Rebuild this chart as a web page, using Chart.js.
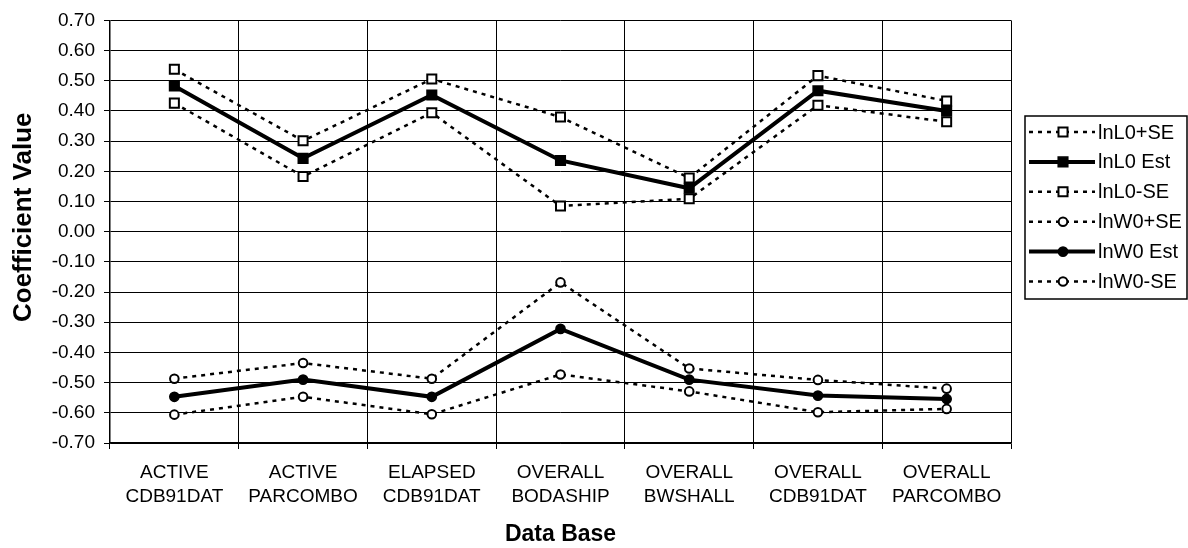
<!DOCTYPE html>
<html>
<head>
<meta charset="utf-8">
<script src="https://cdn.jsdelivr.net/npm/chart.js@4/dist/chart.umd.min.js"></script>
<style>
  html, body { margin: 0; padding: 0; background: #fff; }
  #wrap { width: 1188px; height: 548px; }
</style>
</head>
<body>
<div id="wrap"><canvas id="coefChart" width="1188" height="548"></canvas></div>
<script>
// categories (two-line labels)
const categories = [
  ["ACTIVE", "CDB91DAT"],
  ["ACTIVE", "PARCOMBO"],
  ["ELAPSED", "CDB91DAT"],
  ["OVERALL", "BODASHIP"],
  ["OVERALL", "BWSHALL"],
  ["OVERALL", "CDB91DAT"],
  ["OVERALL", "PARCOMBO"]
];

// series values
const lnL0PlusSE  = [0.538, 0.301, 0.506, 0.380, 0.178, 0.517, 0.433];
const lnL0Est     = [0.483, 0.243, 0.453, 0.236, 0.144, 0.467, 0.400];
const lnL0MinusSE = [0.426, 0.183, 0.394, 0.085, 0.109, 0.419, 0.364];
const lnW0PlusSE  = [-0.487, -0.435, -0.487, -0.168, -0.453, -0.491, -0.520];
const lnW0Est     = [-0.547, -0.490, -0.547, -0.322, -0.490, -0.543, -0.554];
const lnW0MinusSE = [-0.606, -0.547, -0.605, -0.473, -0.529, -0.598, -0.587];

// y axis range / tick step
const yMin = -0.7, yMax = 0.7, yStep = 0.1;

const FONT = "'Liberation Sans', Arial, sans-serif";
Chart.defaults.color = "#000";
Chart.defaults.font.family = FONT;

const dotted = [4, 5];

function seDataset(label, data, style) {
  return {
    label: label, data: data,
    borderColor: "#000", backgroundColor: "#fff",
    borderWidth: 2.5, borderDash: dotted,
    pointStyle: style, pointRadius: style === "rect" ? 6.4 : 4.3,
    pointBorderWidth: 2, pointBackgroundColor: "#fff", pointBorderColor: "#000",
    tension: 0
  };
}
function estDataset(label, data, style) {
  return {
    label: label, data: data,
    borderColor: "#000", backgroundColor: "#000",
    borderWidth: 4, borderDash: [],
    pointStyle: style, pointRadius: style === "rect" ? 6.8 : 4.6,
    pointBorderWidth: 1.5, pointBackgroundColor: "#000", pointBorderColor: "#000",
    tension: 0
  };
}

// legend with a frame, drawn to the right of the plot
const frameLegend = {
  id: "frameLegend",
  afterDraw(chart) {
    const ctx = chart.ctx;
    const x0 = 1025, y0 = 116, w = 162, h = 183, row = 29.9;
    ctx.save();
    ctx.strokeStyle = "#000";
    ctx.lineWidth = 1.5;
    ctx.setLineDash([]);
    ctx.strokeRect(x0, y0, w, h);
    chart.data.datasets.forEach((ds, i) => {
      const y = y0 + 16 + i * row;
      ctx.setLineDash(ds.borderDash || []);
      ctx.lineWidth = ds.borderWidth;
      ctx.strokeStyle = "#000";
      ctx.beginPath();
      ctx.moveTo(x0 + 4, y);
      ctx.lineTo(x0 + 70, y);
      ctx.stroke();
      ctx.setLineDash([]);
      ctx.fillStyle = ds.pointBackgroundColor;
      ctx.strokeStyle = ds.pointBorderColor;
      ctx.lineWidth = ds.pointBorderWidth;
      Chart.helpers.drawPoint(ctx, {
        pointStyle: ds.pointStyle, radius: ds.pointRadius,
        borderWidth: ds.pointBorderWidth, rotation: 0
      }, x0 + 38, y);
      ctx.fillStyle = "#000";
      ctx.font = "20px " + FONT;
      ctx.textBaseline = "middle";
      ctx.textAlign = "left";
      ctx.fillText(ds.label, x0 + 73, y + 1);
    });
    ctx.restore();
  }
};

new Chart(document.getElementById("coefChart").getContext("2d"), {
  type: "line",
  data: {
    labels: categories,
    datasets: [
      seDataset("lnL0+SE", lnL0PlusSE, "rect"),
      estDataset("lnL0 Est", lnL0Est, "rect"),
      seDataset("lnL0-SE", lnL0MinusSE, "rect"),
      seDataset("lnW0+SE", lnW0PlusSE, "circle"),
      estDataset("lnW0 Est", lnW0Est, "circle"),
      seDataset("lnW0-SE", lnW0MinusSE, "circle")
    ]
  },
  options: {
    responsive: false,
    animation: false,
    layout: { padding: { left: 0, top: 17, right: 177, bottom: 0 } },
    plugins: {
      legend: { display: false },
      tooltip: { enabled: false }
    },
    scales: {
      x: {
        offset: true,
        grid: { color: "#000", lineWidth: 1, offset: true, drawTicks: true, tickLength: 6 },
        border: { color: "#000", width: 1.5 },
        ticks: { font: { size: 19, lineHeight: 1.3 }, padding: 11, maxRotation: 0, autoSkip: false },
        title: {
          display: true, text: "Data Base",
          font: { size: 23, weight: "bold" }, padding: { top: 0, bottom: 0 }
        },
        afterFit(scale) { scale.height = 105; }
      },
      y: {
        min: yMin, max: yMax,
        grid: { color: "#000", lineWidth: 1, drawTicks: true, tickLength: 6 },
        border: { color: "#000", width: 1.5 },
        ticks: {
          stepSize: yStep, font: { size: 19 }, padding: 9,
          callback: v => (Math.abs(v) < 1e-9 ? 0 : v).toFixed(2)
        },
        title: {
          display: true, text: "    Coefficient Value",
          font: { size: 26, weight: "bold" }, padding: { top: 8, bottom: 0 }
        },
        afterFit(scale) { scale.width = 110; }
      }
    }
  },
  plugins: [frameLegend]
});
</script>
</body>
</html>
